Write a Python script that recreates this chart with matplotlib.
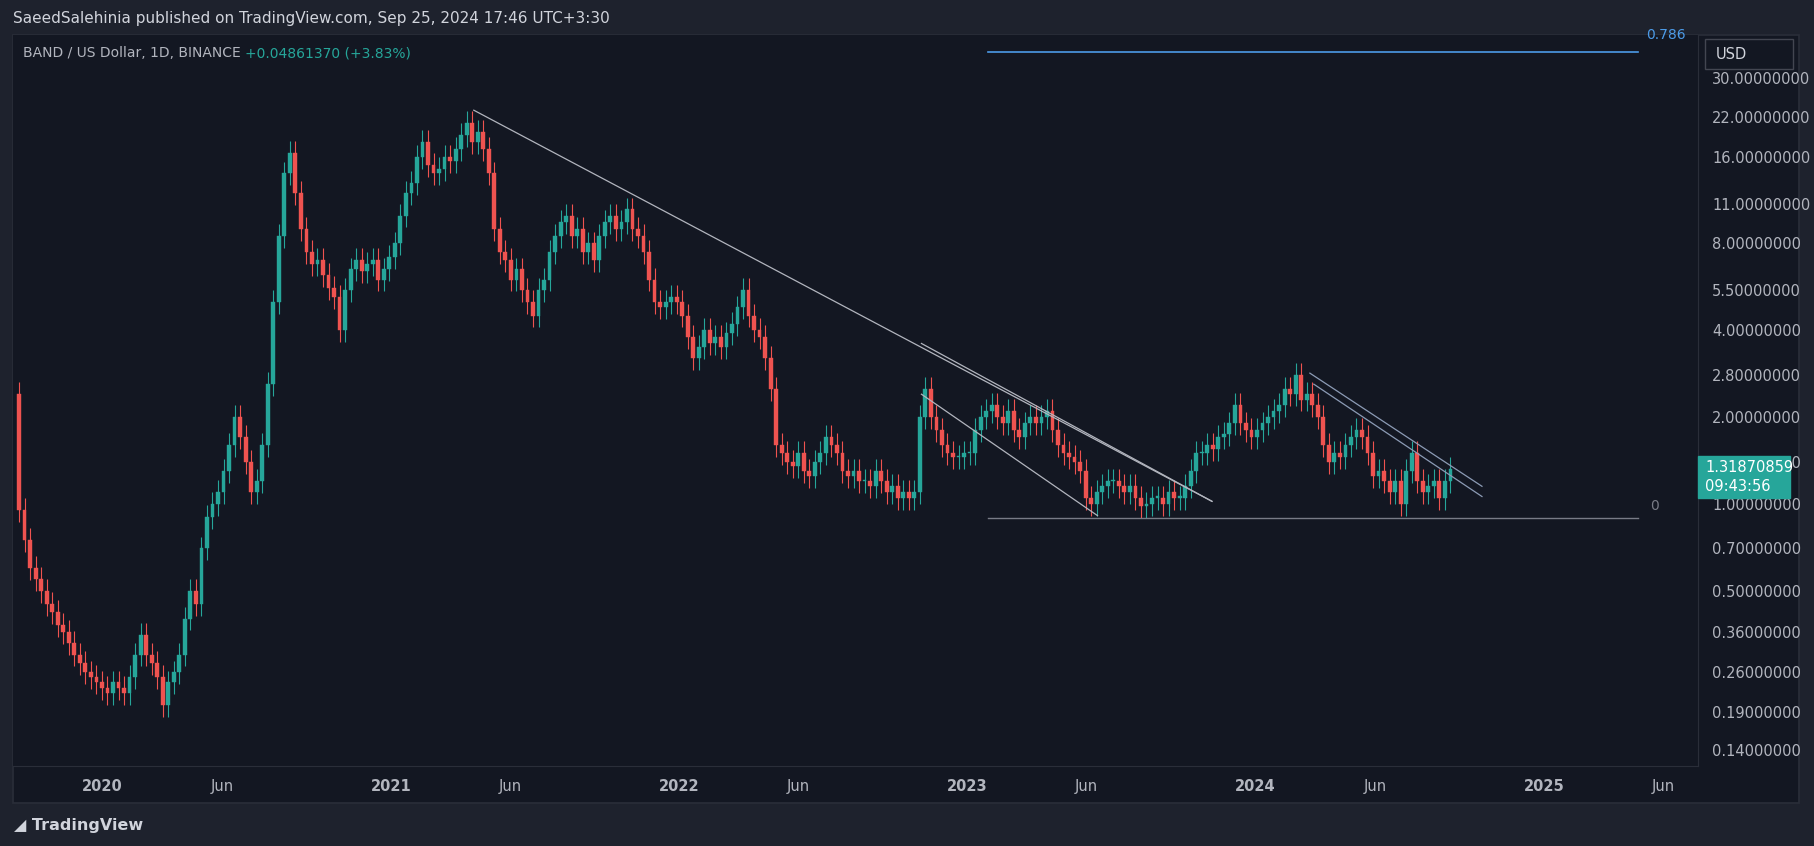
import matplotlib
matplotlib.use("Agg")
import matplotlib.pyplot as plt
import matplotlib.dates as mdates
from matplotlib.patches import Rectangle
import numpy as np
import pandas as pd

# ---------------- data ----------------
start_date = "2019-09-18"
weekly_close = [
    # 2019
    0.95,0.75,0.6,0.55,0.5,0.45,0.42,0.38,0.36,0.33,0.3,0.28,0.26,0.25,0.24,0.23,
    # 2020
    0.22,0.24,0.23,0.22,0.25, 0.3,0.35,0.3,0.28, 0.25,0.2,0.24,0.26, 0.3,0.4,0.5,0.45,
    0.7,0.9,1.0,1.1,1.3, 1.6,2.0,1.7,1.4, 1.1,1.2,1.6,2.6, 5.0,8.5,14.0,16.5,
    12.0,9.0,7.5,6.8, 7.0,6.2,5.6,5.2,4.0, 5.5,6.5,7.0,6.4, 6.8,7.0,6.0,6.5,7.2,
    # 2021
    8.0,10.0,12.0,13.0, 16.0,18.0,15.0,14.0, 14.5,16.0,15.5,17.0,19.0, 21.0,18.0,19.5,17.0,
    14.0,9.0,7.5,7.0,6.0, 6.5,5.5,5.0,4.5, 5.5,6.0,7.5,8.5, 9.5,10.0,8.5,9.0,7.5,
    8.0,7.0,8.5,9.5, 10.0,9.0,9.5,10.5, 9.0,8.5,7.5,6.0, 5.0,4.8,5.0,5.2,5.0,
    # 2022
    4.5,3.8,3.2,3.5, 4.0,3.6,3.8,3.5, 3.9,4.2,4.8,5.5, 4.5,4.0,3.8,3.2,
    2.5,1.6,1.5,1.4,1.35, 1.5,1.3,1.25,1.4, 1.5,1.7,1.6,1.5, 1.3,1.25,1.3,1.2,
    1.2,1.15,1.3,1.2, 1.1,1.15,1.05,1.1,1.05,1.1, 2.0,2.5,2.0,1.8, 1.6,1.5,1.45,1.45,1.5,
    # 2023
    1.5,1.8,2.0,2.1, 2.2,2.0,1.9,2.1, 1.8,1.7,1.9,2.0, 1.9,2.0,2.1,1.8,
    1.6,1.5,1.45,1.4,1.3, 1.05,1.0,1.1,1.15, 1.2,1.2,1.15,1.1, 1.15,1.05,0.98,1.0,1.05,
    1.05,1.0,1.1,1.05, 1.05,1.15,1.3,1.5, 1.5,1.6,1.55,1.7, 1.75,1.9,2.2,1.9,1.8,
    # 2024
    1.7,1.8,1.9,2.0, 2.1,2.2,2.5,2.4, 2.8,2.3,2.4,2.2,2.0, 1.6,1.4,1.5,1.45,
    1.6,1.7,1.8,1.7, 1.5,1.25,1.3,1.2, 1.1,1.2,1.0,1.3, 1.5,1.2,1.1,1.15,
    1.2,1.05,1.2,1.32,
]
first_open = 2.4

trend_main = (("2021-04-16", 23.2), ("2023-11-07", 1.02))
channel_upper = (("2022-11-04", 3.6), ("2023-11-07", 1.02))
channel_lower = (("2022-11-04", 2.4), ("2023-06-15", 0.91))
line2024_a = (("2024-03-10", 2.84), ("2024-10-14", 1.15))
line2024_b = (("2024-03-15", 2.6), ("2024-10-14", 1.06))
fib_span = ("2023-01-27", "2025-04-30")
fib_zero = 0.895
fib_786 = 36.8
price_ticks = [30, 22, 16, 11, 8, 5.5, 4, 2.8, 2.0, 1.4, 1.0, 0.7, 0.5, 0.36, 0.26, 0.19, 0.14]
last_price = 1.31870859

# ---------------- style ----------------
BG = "#1e222d"; PANEL = "#131722"; TXT = "#b2b5be"; BORDER = "#2a2e39"
UP = "#26a69a"; DOWN = "#ef5350"

W, H = 1568, 731
fig = plt.figure(figsize=(18.14, 8.46), dpi=100, facecolor=BG)
def fx(px): return px / W
def fy(py): return 1 - py / H

fig.patches.append(Rectangle((fx(11), fy(694)), fx(1555) - fx(11), fy(30) - fy(694),
                             transform=fig.transFigure, facecolor=PANEL, edgecolor=BORDER, lw=1.2, zorder=-5))
ax = fig.add_axes([fx(11), fy(662), fx(1468) - fx(11), fy(30) - fy(662)])
ax.set_facecolor(PANEL)
ax.set_yscale("log")
ax.set_ylim(0.123, 42.4)
ax.set_xlim(mdates.date2num(pd.Timestamp("2019-09-10")), mdates.date2num(pd.Timestamp("2025-07-15")))
for s in ax.spines.values():
    s.set_visible(False)
ax.spines["right"].set_visible(True); ax.spines["right"].set_color(BORDER)
ax.spines["bottom"].set_visible(True); ax.spines["bottom"].set_color(BORDER)

dates = pd.date_range(start_date, periods=len(weekly_close), freq="7D")
xs = mdates.date2num(dates)
opens = [first_open] + weekly_close[:-1]
for x, o, c in zip(xs, opens, weekly_close):
    col = UP if c >= o else DOWN
    hi, lo = max(o, c) * 1.1, min(o, c) / 1.1
    ax.vlines(x, lo, hi, color=col, lw=0.8, zorder=3)
    ax.add_patch(Rectangle((x - 2.4, min(o, c)), 4.8, max(abs(c - o), min(o, c) * 0.01),
                           facecolor=col, edgecolor=col, lw=0.3, zorder=4))

def seg(l, color="#b2b5be", lw=0.9):
    (d0, p0), (d1, p1) = l
    ax.plot([pd.Timestamp(d0), pd.Timestamp(d1)], [p0, p1], color=color, lw=lw, zorder=5)

seg(trend_main)
seg(channel_upper); seg(channel_lower)
seg(line2024_a, "#8c9bb5"); seg(line2024_b, "#8c9bb5")
fs = [pd.Timestamp(d) for d in fib_span]
ax.plot(fs, [fib_zero] * 2, color="#787b86", lw=1, zorder=5)
ax.plot(fs, [fib_786] * 2, color="#4c9be8", lw=1.2, zorder=5)
ax.text(pd.Timestamp("2025-05-15"), fib_zero * 1.1, "0", color="#787b86", fontsize=10, va="center")
ax.text(pd.Timestamp("2025-05-10"), fib_786 * 1.15, "0.786", color="#4c9be8", fontsize=10, va="center")

# y axis
ax.yaxis.tick_right()
ax.set_yticks(price_ticks)
ax.set_yticklabels([f"{v:.8f}" for v in price_ticks])
ax.yaxis.set_minor_locator(matplotlib.ticker.NullLocator())
ax.tick_params(axis="y", colors=TXT, labelsize=10.5, length=0, pad=10)
# x axis
xt, xl = [], []
for yr in range(2020, 2026):
    xt += [pd.Timestamp(f"{yr}-01-01"), pd.Timestamp(f"{yr}-06-01")]
    xl += [str(yr), "Jun"]
ax.set_xticks([mdates.date2num(t) for t in xt])
ax.set_xticklabels(xl)
for lab in ax.get_xticklabels():
    if lab.get_text() != "Jun":
        lab.set_fontweight("bold")
ax.tick_params(axis="x", colors=TXT, labelsize=10.5, length=0, pad=9)

# last price label
fig.patches.append(Rectangle((fx(1468), fy(430)), fx(1547) - fx(1468), fy(394) - fy(430),
                             transform=fig.transFigure, facecolor=UP, edgecolor=UP, zorder=10))
fig.text(fx(1474), fy(404), f"{last_price:.8f}", color="white", fontsize=10.5, va="center", zorder=11)
fig.text(fx(1474), fy(420), "09:43:56", color="white", fontsize=10.5, va="center", zorder=11)
# USD box
fig.patches.append(Rectangle((fx(1474), fy(60)), fx(1550) - fx(1474), fy(34) - fy(60),
                             transform=fig.transFigure, facecolor=PANEL, edgecolor="#434651", lw=1, zorder=10))
fig.text(fx(1483), fy(47), "USD", color="#d1d4dc", fontsize=10.5, va="center", zorder=11)

fig.text(fx(11), fy(16), "SaeedSalehinia published on TradingView.com, Sep 25, 2024 17:46 UTC+3:30",
         color="#d1d4dc", fontsize=11, va="center")
fig.text(fx(20), fy(46), "BAND / US Dollar, 1D, BINANCE", color="#b2b5be", fontsize=10, va="center")
fig.text(fx(212), fy(46), "+0.04861370 (+3.83%)", color=UP, fontsize=10, va="center")
fig.text(fx(12), fy(713), "\u25e2 TradingView", color="#d1d4dc", fontsize=11.5, va="center", fontweight="bold")

fig.savefig("out.png", dpi=100, facecolor=BG)
